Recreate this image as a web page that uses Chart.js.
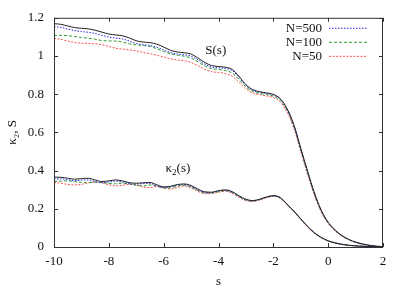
<!DOCTYPE html>
<html>
<head>
<meta charset="utf-8">
<script src="https://cdn.jsdelivr.net/npm/chart.js@4.4.0/dist/chart.umd.min.js"></script>
<style>
  html, body { margin: 0; padding: 0; background: #fff; }
  #wrap { width: 415px; height: 291px; }
</style>
</head>
<body>
<div id="wrap"><canvas id="chart"></canvas></div>
<script>
// valores de s (eixo x)
const sGrid = [-10, -9.75, -9.5, -9.25, -9, -8.75, -8.5, -8.25, -8, -7.75, -7.5, -7.25, -7, -6.75, -6.5, -6.25,
  -6, -5.75, -5.5, -5.25, -5, -4.75, -4.5, -4.25, -4, -3.75, -3.5, -3.25, -3, -2.75, -2.5, -2.25,
  -2, -1.75, -1.5, -1.25, -1, -0.75, -0.5, -0.25, 0, 0.25, 0.5, 0.75, 1, 1.25, 1.5, 1.75, 2];

// S(s)
const sExact = [1.169, 1.166, 1.157, 1.149, 1.145, 1.142, 1.135, 1.125, 1.115, 1.110, 1.106, 1.094, 1.080, 1.073, 1.070, 1.062,
  1.047, 1.030, 1.021, 1.017, 1.010, 0.990, 0.966, 0.950, 0.945, 0.941, 0.930, 0.893, 0.850, 0.824, 0.813, 0.807,
  0.799, 0.777, 0.725, 0.640, 0.518, 0.397, 0.283, 0.192, 0.130, 0.090, 0.060, 0.040, 0.026, 0.016, 0.009, 0.004, 0.002];
const sN500 = [1.153, 1.150, 1.141, 1.133, 1.128, 1.124, 1.118, 1.108, 1.099, 1.094, 1.089, 1.078, 1.066, 1.059, 1.055, 1.046,
  1.032, 1.018, 1.010, 1.006, 0.999, 0.980, 0.957, 0.942, 0.938, 0.934, 0.924, 0.888, 0.846, 0.820, 0.810, 0.804,
  0.796, 0.774, 0.721, 0.635, 0.513, 0.392, 0.279, 0.189, 0.128, 0.088, 0.059, 0.039, 0.025, 0.015, 0.008, 0.004, 0.002];
const sN100 = [1.107, 1.108, 1.107, 1.102, 1.097, 1.093, 1.088, 1.081, 1.079, 1.078, 1.073, 1.064, 1.058, 1.055, 1.050, 1.038,
  1.024, 1.012, 1.004, 0.999, 0.989, 0.970, 0.948, 0.934, 0.929, 0.924, 0.911, 0.877, 0.838, 0.814, 0.804, 0.798,
  0.790, 0.768, 0.716, 0.630, 0.508, 0.388, 0.276, 0.186, 0.126, 0.087, 0.058, 0.038, 0.025, 0.015, 0.008, 0.004, 0.002];
const sN50 = [1.092, 1.087, 1.078, 1.071, 1.067, 1.066, 1.064, 1.059, 1.050, 1.041, 1.036, 1.032, 1.027, 1.019, 1.012, 1.004,
  0.995, 0.985, 0.979, 0.975, 0.966, 0.949, 0.930, 0.918, 0.914, 0.908, 0.894, 0.862, 0.828, 0.806, 0.797, 0.791,
  0.782, 0.759, 0.707, 0.620, 0.499, 0.380, 0.270, 0.182, 0.123, 0.085, 0.057, 0.038, 0.024, 0.015, 0.008, 0.004, 0.002];

// kappa_2(s)
const k2Exact = [0.366, 0.365, 0.360, 0.355, 0.358, 0.360, 0.351, 0.343, 0.346, 0.351, 0.346, 0.337, 0.334, 0.336, 0.338, 0.326,
  0.315, 0.318, 0.327, 0.330, 0.322, 0.303, 0.289, 0.287, 0.295, 0.299, 0.290, 0.268, 0.250, 0.243, 0.250, 0.262,
  0.269, 0.259, 0.225, 0.188, 0.148, 0.108, 0.075, 0.050, 0.033, 0.022, 0.014, 0.009, 0.006, 0.004, 0.002, 0.001, 0.0005];
const k2N500 = [0.357, 0.357, 0.352, 0.347, 0.350, 0.351, 0.343, 0.336, 0.340, 0.345, 0.340, 0.331, 0.329, 0.332, 0.333, 0.321,
  0.311, 0.315, 0.324, 0.327, 0.318, 0.299, 0.286, 0.285, 0.293, 0.297, 0.287, 0.266, 0.248, 0.242, 0.249, 0.261,
  0.268, 0.258, 0.224, 0.187, 0.147, 0.107, 0.074, 0.049, 0.032, 0.021, 0.014, 0.009, 0.006, 0.004, 0.002, 0.001, 0.0005];
const k2N100 = [0.343, 0.345, 0.346, 0.343, 0.338, 0.337, 0.340, 0.338, 0.333, 0.331, 0.334, 0.331, 0.323, 0.320, 0.325, 0.319,
  0.308, 0.309, 0.319, 0.323, 0.314, 0.296, 0.283, 0.282, 0.290, 0.295, 0.285, 0.263, 0.246, 0.240, 0.248, 0.260,
  0.267, 0.257, 0.223, 0.186, 0.146, 0.106, 0.073, 0.049, 0.032, 0.021, 0.014, 0.009, 0.006, 0.004, 0.002, 0.001, 0.0005];
const k2N50 = [0.338, 0.334, 0.328, 0.325, 0.328, 0.336, 0.340, 0.336, 0.326, 0.320, 0.323, 0.328, 0.324, 0.314, 0.311, 0.316,
  0.312, 0.303, 0.312, 0.319, 0.309, 0.291, 0.279, 0.280, 0.287, 0.292, 0.281, 0.260, 0.243, 0.238, 0.246, 0.258,
  0.265, 0.255, 0.221, 0.184, 0.144, 0.104, 0.072, 0.048, 0.031, 0.020, 0.013, 0.008, 0.005, 0.003, 0.002, 0.001, 0.0005];

const seriesLabels = ['N=500', 'N=100', 'N=50'];
const xTicks = [-10, -8, -6, -4, -2, 0, 2];
const yTicks = [0, 0.2, 0.4, 0.6, 0.8, 1, 1.2];

const FONT = "'Liberation Serif', 'Times New Roman', serif";

function pts(arr) {
  return sGrid.map((s, i) => ({ x: s, y: arr[i] }));
}

const styles = [
  { color: '#222222', dash: [], order: 0 },
  { color: '#2828e8', dash: [1.5, 1.5], order: 1 },
  { color: '#2e9a2e', dash: [3, 2], order: 2 },
  { color: '#ff5050', dash: [2, 1.5], order: 3 }
];

function line(label, arr, st) {
  return {
    label: label,
    data: pts(arr),
    borderColor: st.color,
    borderDash: st.dash,
    borderWidth: 1,
    pointRadius: 0,
    fill: false,
    cubicInterpolationMode: 'monotone',
    order: st.order
  };
}

const datasets = [
  line('exact S', sExact, styles[0]),
  line(seriesLabels[0], sN500, styles[1]),
  line(seriesLabels[1], sN100, styles[2]),
  line(seriesLabels[2], sN50, styles[3]),
  line('exact k2', k2Exact, styles[0]),
  line(seriesLabels[0] + ' k2', k2N500, styles[1]),
  line(seriesLabels[1] + ' k2', k2N100, styles[2]),
  line(seriesLabels[2] + ' k2', k2N50, styles[3])
];

// moldura, ticks internos, legenda e rótulos das curvas
const decorations = {
  id: 'decorations',
  afterDraw(chart) {
    const { ctx, chartArea: a, scales: { x, y } } = chart;
    ctx.save();
    ctx.strokeStyle = '#333';
    ctx.lineWidth = 1;
    ctx.setLineDash([]);
    ctx.strokeRect(a.left + 0.5, a.top + 0.5, a.right - a.left - 1, a.bottom - a.top);

    ctx.beginPath();
    xTicks.forEach(v => {
      const px = Math.round(x.getPixelForValue(v)) + 0.5;
      ctx.moveTo(px, a.bottom); ctx.lineTo(px, a.bottom - 4);
      ctx.moveTo(px, a.top); ctx.lineTo(px, a.top + 4);
    });
    yTicks.forEach(v => {
      const py = Math.round(y.getPixelForValue(v)) + 0.5;
      ctx.moveTo(a.left, py); ctx.lineTo(a.left + 4, py);
      ctx.moveTo(a.right, py); ctx.lineTo(a.right - 4, py);
    });
    ctx.stroke();

    // legenda
    ctx.font = '13px ' + FONT;
    ctx.fillStyle = '#111';
    ctx.textBaseline = 'middle';
    ctx.textAlign = 'right';
    seriesLabels.forEach((lab, i) => {
      const ds = chart.data.datasets[i + 1];
      const yy = a.top + 10.5 + i * 14;
      ctx.fillText(lab, a.right - 61, yy);
      ctx.beginPath();
      ctx.strokeStyle = ds.borderColor;
      ctx.setLineDash(ds.borderDash);
      ctx.moveTo(a.right - 54, yy);
      ctx.lineTo(a.right - 16, yy);
      ctx.stroke();
    });
    ctx.setLineDash([]);

    // rótulos das curvas
    ctx.fillStyle = '#111';
    ctx.textAlign = 'center';
    ctx.fillText('S(s)', x.getPixelForValue(-4.1), y.getPixelForValue(1.03));

    const kx = x.getPixelForValue(-5.48);
    const ky = y.getPixelForValue(0.41);
    ctx.textAlign = 'left';
    const wK = ctx.measureText('κ').width;
    ctx.font = '9px ' + FONT;
    const w2 = ctx.measureText('2').width;
    ctx.font = '13px ' + FONT;
    const wP = ctx.measureText('(s)').width;
    let cx = kx - (wK + w2 + wP) / 2;
    ctx.fillText('κ', cx, ky);
    cx += wK;
    ctx.font = '9px ' + FONT;
    ctx.fillText('2', cx, ky + 4);
    cx += w2;
    ctx.font = '13px ' + FONT;
    ctx.fillText('(s)', cx, ky);
    ctx.restore();
  }
};

new Chart(document.getElementById('chart'), {
  type: 'line',
  data: { datasets: datasets },
  plugins: [decorations],
  options: {
    responsive: true,
    maintainAspectRatio: false,
    animation: false,
    devicePixelRatio: 1,
    layout: { padding: { top: 16, right: 32, left: 0, bottom: 0 } },
    plugins: {
      legend: { display: false },
      tooltip: { enabled: false }
    },
    scales: {
      x: {
        type: 'linear',
        min: -10,
        max: 2,
        grid: { display: false, drawTicks: false },
        border: { display: false },
        afterFit: s => { s.height = 44; },
        afterBuildTicks: s => { s.ticks = xTicks.map(v => ({ value: v })); },
        ticks: { color: '#111', padding: 7, maxRotation: 0, font: { family: FONT, size: 13 },
          callback: v => String(v) },
        title: { display: true, text: 's', color: '#111', padding: { top: 0, bottom: 2 }, font: { family: FONT, size: 13 } }
      },
      y: {
        min: 0,
        max: 1.2,
        grid: { display: false, drawTicks: false },
        border: { display: false },
        afterFit: s => { s.width = 54; },
        afterBuildTicks: s => { s.ticks = yTicks.map(v => ({ value: v })); },
        ticks: { color: '#111', padding: 10, font: { family: FONT, size: 13 },
          callback: v => String(v) },
        title: { display: true, text: 'κ₂, S', color: '#111', padding: { top: 5, bottom: 0 }, font: { family: FONT, size: 13 } }
      }
    }
  }
});
</script>
</body>
</html>
